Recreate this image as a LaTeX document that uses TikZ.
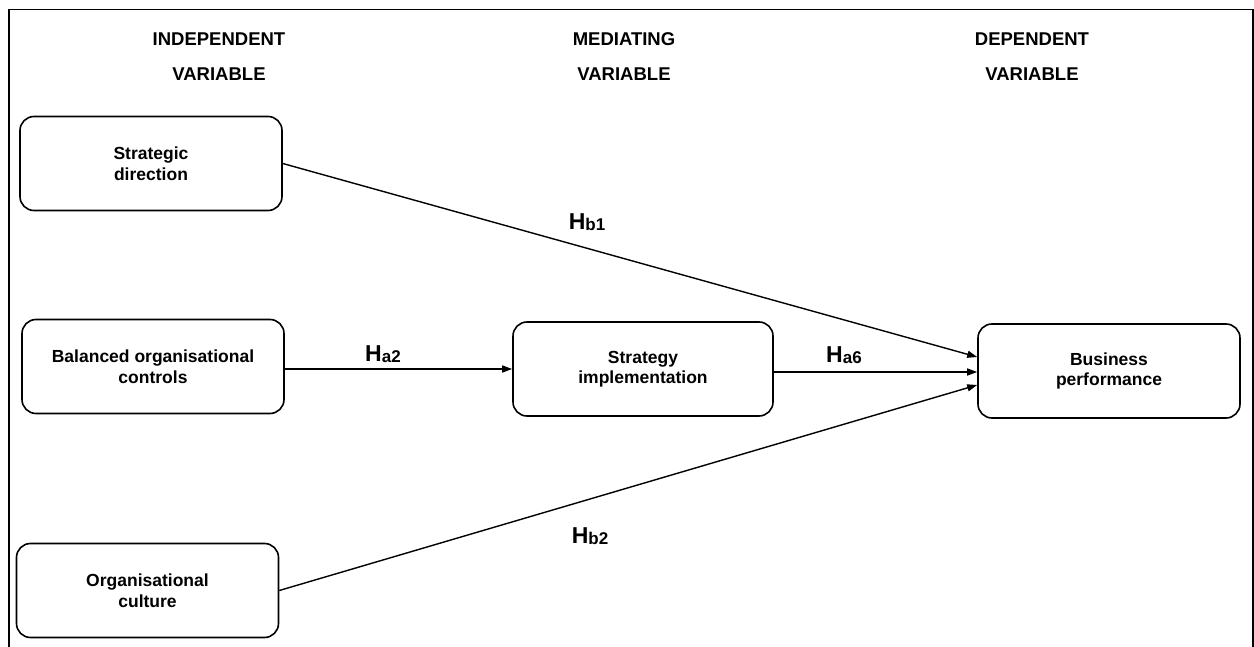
\documentclass[tikz,border=0pt]{standalone}
\usepackage{fontspec}
\setmainfont{Liberation Sans}
\usetikzlibrary{arrows.meta}

\newcommand{\hyp}[2]{{\fontsize{23}{26}\selectfont H}\raisebox{-1pt}{\fontsize{17}{20}\selectfont #1#2}}

\begin{document}
\begin{tikzpicture}[x=1pt,y=-1pt]
\tikzset{VarBox/.style = {draw, line width=1.6pt, rounded corners=14pt, minimum width=262pt,
  minimum height=94pt, align=center, inner sep=0pt, font=\bfseries\fontsize{17.5}{20.5}\selectfont},
  HeadStyle/.style = {align=center, font=\bfseries\fontsize{18.5}{35}\selectfont},
  LinkStyle/.style = {draw, line width=1.4pt, -{Triangle[length=10pt,width=7pt]}},
  HypStyle/.style = {inner sep=0pt, font=\bfseries}}
\useasboundingbox (0,0) rectangle (1254,647);
\draw[line width=1.8pt] (9,647) -- (9,9.5) -- (1253,9.5) -- (1253,647);

\node[HeadStyle] (hind) at (219,57) {INDEPENDENT\\VARIABLE};
\node[HeadStyle] (hmed) at (624,57) {MEDIATING\\VARIABLE};
\node[HeadStyle] (hdep) at (1032,57) {DEPENDENT\\VARIABLE};

\node[VarBox] (sd)  at (151,163.5) {Strategic\\direction};
\node[VarBox] (boc) at (153,366.5) {Balanced organisational\\controls};
\node[VarBox] (oc)  at (147.5,590.5) {Organisational\\culture};
\node[VarBox, minimum width=260pt] (si) at (643,369) {Strategy\\implementation};
\node[VarBox] (bp)  at (1109,371) {Business\\performance};

\draw[LinkStyle] (sd.east) -- ([yshift=14pt]bp.west);
\draw[LinkStyle] (boc.east |- si.west) -- (si.west);
\draw[LinkStyle] ([yshift=-3pt]si.east) -- ([yshift=-3pt]si.east -| bp.west);
\draw[LinkStyle] (oc.east) -- ([yshift=-14pt]bp.west);

\node[HypStyle] (hb1) at (587,222) {\hyp{b}{1}};
\node[HypStyle] (ha2) at (383,354) {\hyp{a}{2}};
\node[HypStyle] (ha6) at (844,355) {\hyp{a}{6}};
\node[HypStyle] (hb2) at (590,536) {\hyp{b}{2}};

\end{tikzpicture}
\end{document}
